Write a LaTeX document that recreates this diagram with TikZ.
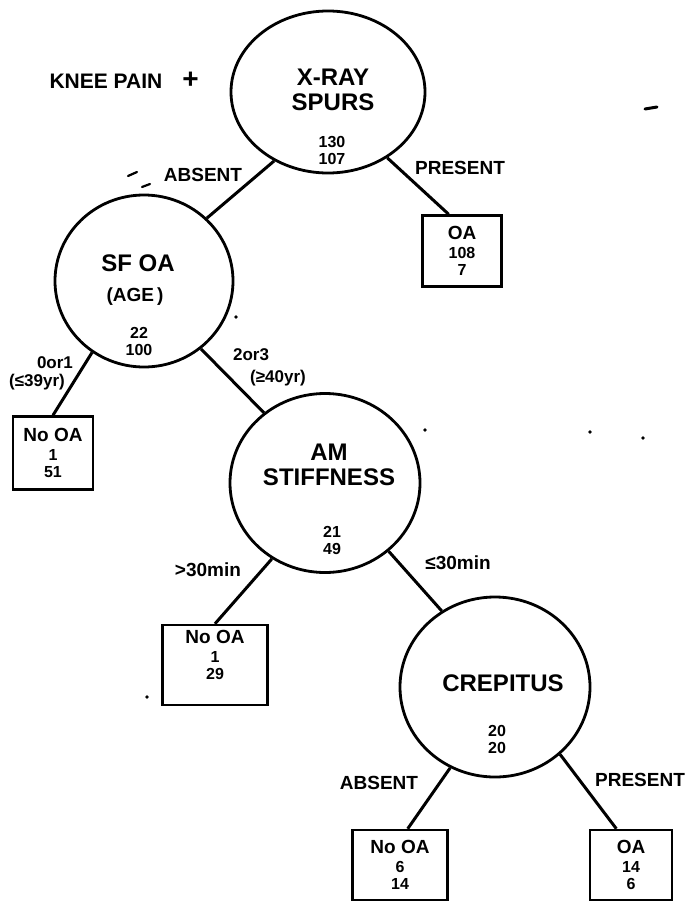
\documentclass[tikz,border=0pt]{standalone}
\usepackage{fontspec}
\setmainfont{Liberation Sans}
\usetikzlibrary{shapes.geometric}

\begin{document}
\begin{tikzpicture}[x=1pt,y=-1pt,
  test/.style={draw,ellipse,line width=2.8pt,inner sep=0pt},
  leaf/.style={draw,rectangle,line width=2.5pt,inner sep=0pt,align=center,font=\bfseries\fontsize{16}{17}\selectfont},
  branch/.style={line width=3pt},
  testtitle/.style={align=center,font=\bfseries\fontsize{24}{25}\selectfont},
  tally/.style={align=center,font=\bfseries\fontsize{16}{17}\selectfont},
  split/.style={font=\bfseries\fontsize{19}{19}\selectfont},
  splitnote/.style={font=\bfseries\fontsize{17}{17}\selectfont},
  speck/.style={line width=3pt,line cap=round}]
\useasboundingbox (0,0) rectangle (689,907);
\node[test,minimum width=194pt,minimum height=162pt] (xray) at (328,92) {};
\node[test,minimum width=178pt,minimum height=172pt] (sfoa) at (144,281) {};
\node[test,minimum width=190pt,minimum height=179pt] (amstiff) at (325,483) {};
\node[test,minimum width=190pt,minimum height=180pt] (crep) at (495,687) {};
\node[leaf,minimum width=79pt,minimum height=71pt] (oa1) at (462,251) {{\fontsize{19}{19}\selectfont OA}\\[2pt]108\\7};
\node[leaf,minimum width=80pt,minimum height=73pt] (noa1) at (53,453) {{\fontsize{19}{19}\selectfont No OA}\\[2pt]1\\51};
\node[leaf,minimum width=105pt,minimum height=80pt] (noa2) at (215,665) {{\fontsize{19}{19}\selectfont No OA}\\[2pt]1\\29\\[4pt]};
\node[leaf,minimum width=95pt,minimum height=70pt] (noa3) at (400,865) {{\fontsize{19}{19}\selectfont No OA}\\[2pt]6\\14};
\node[leaf,minimum width=82pt,minimum height=70pt] (oa2) at (631,865) {{\fontsize{19}{19}\selectfont OA}\\[2pt]14\\6};
\draw[branch] (xray.232) -- (sfoa.45);
\draw[branch] (xray.312) -- (oa1.110);
\draw[branch] (sfoa.234) -- (noa1.north);
\draw[branch] (sfoa.310) -- (amstiff.131);
\draw[branch] (amstiff.235) -- (noa2.north);
\draw[branch] (amstiff.313) -- (crep.125);
\draw[branch] (crep.241) -- (noa3.78);
\draw[branch] (crep.314) -- (oa2.112);
\node[split,anchor=west] (knee) at (46,80) {\fontsize{21}{21}\selectfont KNEE PAIN\hspace{20pt}{\fontsize{28}{28}\selectfont +}};
\node[testtitle] (xraytxt) at (333,90) {X-RAY\\SPURS};
\node[tally] (xraynum) at (332,150) {130\\107};
\node[testtitle] (sfoatxt) at (138,263) {SF OA};
\node[split] (agetxt) at (135,297) {(AGE\,)};
\node[tally] (sfoanum) at (139,341) {22\\100};
\node[testtitle] (amtxt) at (329,465) {AM\\STIFFNESS};
\node[tally] (amnum) at (332,540) {21\\49};
\node[testtitle] (creptxt) at (503,683) {CREPITUS};
\node[tally] (crepnum) at (497,739) {20\\20};
\node[split] (absent1) at (203,175) {ABSENT};
\node[split] (present1) at (460,168) {PRESENT};
\node[splitnote] (lowscore) at (55,363) {0or1};
\node[splitnote] (young) at (37,382) {(≤39yr)};
\node[splitnote] (highscore) at (251,355) {2or3};
\node[splitnote] (old) at (278,378) {(≥40yr)};
\node[split] (long) at (208,570) {>30min};
\node[split] (short) at (458,563) {≤30min};
\node[split] (absent2) at (379,783) {ABSENT};
\node[split] (present2) at (640,780) {PRESENT};
\draw[speck] (645,109) -- (657,107);
\draw[speck,line width=2.2pt] (128,176) -- (137,172);
\draw[speck,line width=2.2pt] (142,187) -- (150,184);
\foreach \p in {(236,317),(425,430),(590,432),(643,438),(147,697)}
  \fill \p circle (1.8pt);
\end{tikzpicture}
\end{document}
